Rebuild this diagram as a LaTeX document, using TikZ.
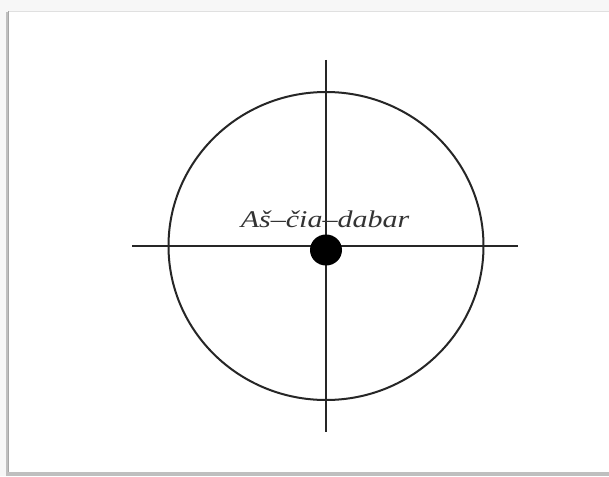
\documentclass[tikz,border=0pt]{standalone}
\usepackage{fontspec}
\setmainfont{Liberation Serif}
\begin{document}
\begin{tikzpicture}[x=1pt,y=-1pt,
  axis/.style={draw=black!85,line width=2pt},
  ring/.style={draw=black!85,line width=2pt},
  label/.style={font=\itshape\fontsize{24}{26}\selectfont,text=black!80,inner sep=0pt,anchor=base,xscale=1.25}]
\useasboundingbox (0,0) rectangle (609,476);
\fill[white!97!black] (0,0) rectangle (609,476);
% frame with shadow
\fill[black!25] (6,12) rectangle (609,476);
\fill[white] (9,11) rectangle (609,472);
\draw[black!12,line width=0.8pt] (9,11) -- (609,11);
\draw[black!35,line width=1pt] (8.5,11) -- (8.5,472);
% diagram
\coordinate (c) at (326,246);
\coordinate (top) at (326,60);
\coordinate (bot) at (326,432);
\coordinate (lft) at (132,246);
\coordinate (rgt) at (518,246);
\draw[ring] (c) ellipse [x radius=157.5, y radius=154];
\draw[axis] (top) -- (bot);
\draw[axis] (lft) -- (rgt);
\fill[black] (326,250) ellipse [x radius=16, y radius=15.5];
\node[label] (t) at (325,227) {Aš–čia–dabar};
\end{tikzpicture}
\end{document}
